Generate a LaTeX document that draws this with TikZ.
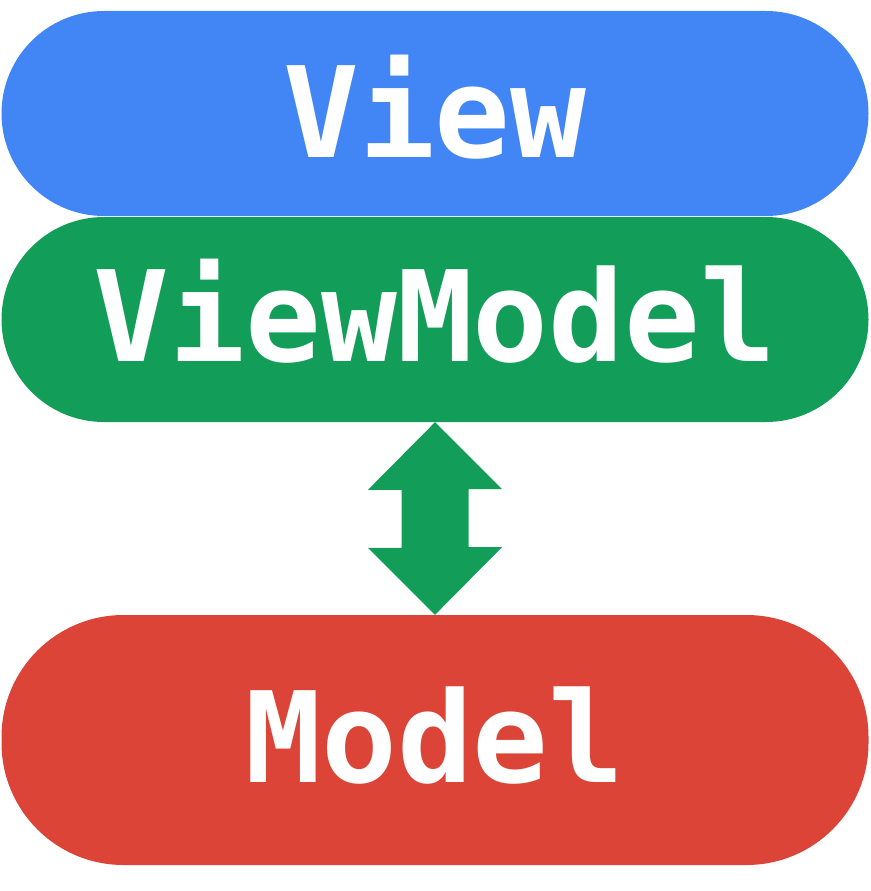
\documentclass[tikz,border=0pt]{standalone}
\usepackage{fontspec}
\newfontfamily\labelfont{DejaVu Sans Mono}[BoldFont={DejaVu Sans Mono Bold}]
\definecolor{gblue}{HTML}{4285F4}
\definecolor{ggreen}{HTML}{129E58}
\definecolor{gred}{HTML}{DB4437}
\begin{document}
\begin{tikzpicture}[x=1pt,y=1pt,
  pill/.style={rectangle, minimum width=867pt, inner sep=0pt, draw=none},
  lbl/.style={anchor=base, text=white, inner sep=0pt, font=\labelfont\bfseries\fontsize{126}{126}\selectfont}]
\useasboundingbox (0,0) rectangle (870,-891);
\node[pill, fill=gblue, minimum height=205pt, rounded corners=102.5pt] (v) at (435,-113.5) {};
\node[pill, fill=ggreen, minimum height=205pt, rounded corners=102.5pt] (vm) at (435,-319.5) {};
\node[pill, fill=gred, minimum height=250pt, rounded corners=122pt] (m) at (435,-740) {};
\node[lbl] (tv) at (435,-157) {View};
\node[lbl] (tvm) at (435,-361) {ViewModel};
\node[lbl] (tm) at (435,-782) {Model};
\fill[ggreen] (vm.south) -- ++(67,-67) -- ++(-33.5,0) -- ++(0,-58) -- ++(33.5,0) -- (m.north)
  -- ++(-67,67) -- ++(33.5,0) -- ++(0,58) -- ++(-33.5,0) -- cycle;
\end{tikzpicture}
\end{document}
